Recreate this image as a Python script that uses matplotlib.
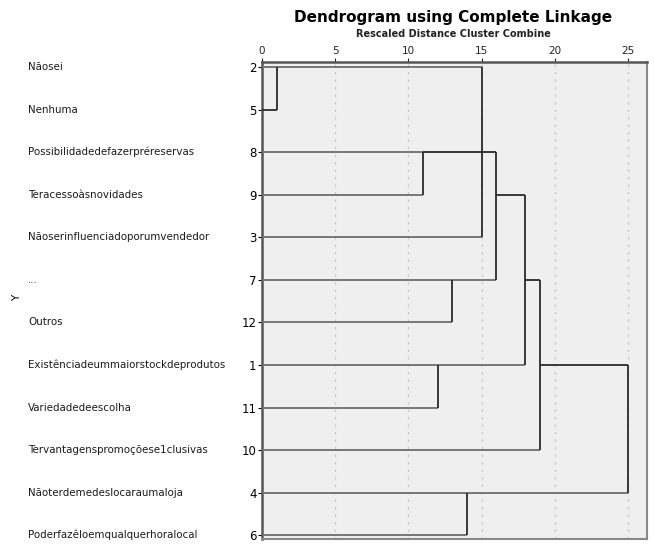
import matplotlib.pyplot as plt
import numpy as np

# leaves, top to bottom
labels = ['Nãosei', 'Nenhuma', 'Possibilidadedefazerpréreservas', 'Teracessoàsnovidades',
          'Nãoserinfluenciadoporumvendedor', '...', 'Outros',
          'Existênciadeummaiorstockdeprodutos', 'Variedadedeescolha',
          'Tervantagenspromoçõese1clusivas', 'Nãoterdemedeslocaraumaloja',
          'Poderfazêloemqualquerhoralocal']
case_ids = [2, 5, 8, 9, 3, 7, 12, 1, 11, 10, 4, 6]

# horizontal pieces: row index, from, to (rescaled distance)
h_row = [0, 1, 2, 2, 3, 4, 5, 5, 6, 7, 7, 8, 9, 10, 11, 3]
h_x0 = [0, 0, 0, 11, 0, 0, 0, 18, 0, 0, 19, 0, 0, 0, 0, 16]
h_x1 = [15, 1, 11, 16, 11, 15, 16, 19, 13, 18, 25, 12, 19, 25, 14, 18]
h_leaf = [True, True, True, False, True, True, True, False, True, True, False, True, True, True, True, False]

# vertical joins: distance, row from, row to
v_x = [1, 15, 11, 16, 13, 18, 12, 19, 25, 14]
v_r0 = [0, 0, 2, 2, 5, 3, 7, 5, 7, 10]
v_r1 = [1, 4, 3, 5, 6, 7, 8, 9, 10, 11]

fig = plt.figure(figsize=(6.54, 5.45), dpi=100)
ax = fig.add_axes([0.4006, 0.011, 0.5887, 0.8752])
ax.set_facecolor('#efefef')

for x in [5, 10, 15, 20, 25]:
    ax.axvline(x, color='#c8c8c8', lw=0.9, ls=(0, (2, 4)), zorder=1)

for r, a, b, leaf in zip(h_row, h_x0, h_x1, h_leaf):
    ax.plot([a, b], [r, r], color='#6e6e6e' if leaf and a == 0 and b > 1 else '#2a2a2a',
            lw=1.3, solid_capstyle='butt', zorder=3)
for x, r0, r1 in zip(v_x, v_r0, v_r1):
    ax.plot([x, x], [r0, r1], color='#2a2a2a', lw=1.3, solid_capstyle='butt', zorder=3)

ax.set_xlim(0, 26.3)
ax.set_ylim(11.09, -0.12)
ax.xaxis.tick_top()
ax.set_xticks([0, 5, 10, 15, 20, 25])
ax.tick_params(axis='x', length=3, width=0.8, pad=1, labelsize=7.5, colors='#222222')
ax.set_yticks(range(len(case_ids)))
ax.set_yticklabels([str(c) for c in case_ids], fontsize=8.5)
ax.tick_params(axis='y', length=3, width=0.8, pad=1)

for side in ['top', 'left']:
    ax.spines[side].set_color('#555555')
    ax.spines[side].set_linewidth(1.8)
for side in ['right', 'bottom']:
    ax.spines[side].set_color('#888888')
    ax.spines[side].set_linewidth(1.5)

for i, lab in enumerate(labels):
    ax.annotate(lab, xy=(0, i), xycoords=('figure fraction', 'data'),
                xytext=(28, 0), textcoords='offset pixels',
                ha='left', va='center', fontsize=7.4, color='#1a1a1a')

fig.text(0.026, 0.453, 'Y', rotation=90, ha='center', va='center', fontsize=7.5)
fig.text(0.693, 0.968, 'Dendrogram using Complete Linkage', ha='center', va='center',
         fontsize=11, fontweight='bold')
fig.text(0.693, 0.937, 'Rescaled Distance Cluster Combine', ha='center', va='center',
         fontsize=7, fontweight='bold', color='#222222')

fig.savefig('out.png', dpi=100)
